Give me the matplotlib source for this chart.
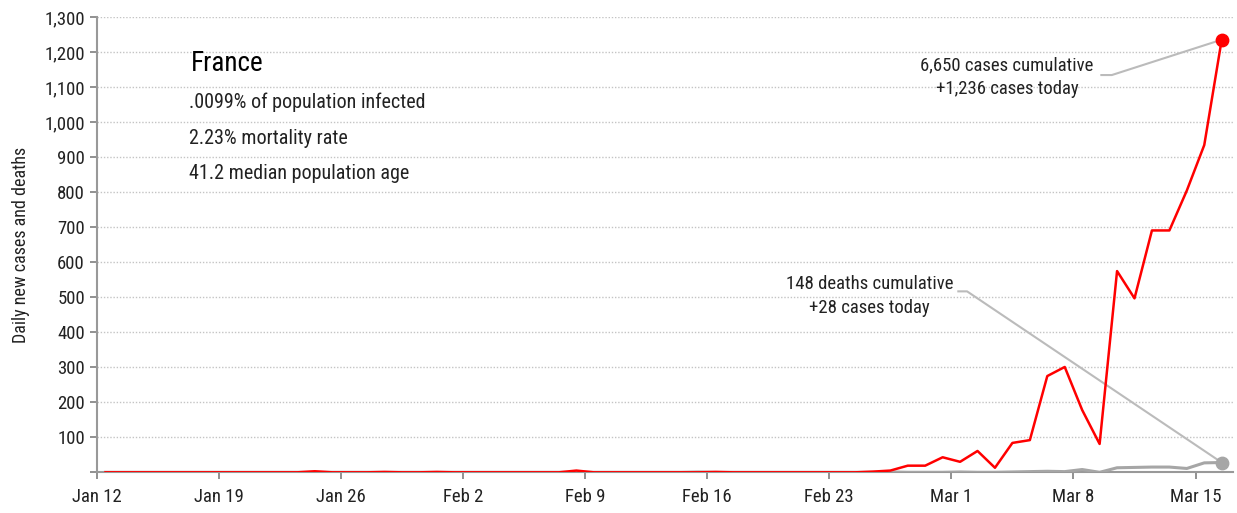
import matplotlib
matplotlib.use('Agg')
import matplotlib.pyplot as plt
from matplotlib import font_manager
import numpy as np

# pick a narrow face if one is installed
installed = {f.name for f in font_manager.fontManager.ttflist}
narrow = [n for n in ['Roboto Condensed', 'Liberation Sans Narrow', 'Open Sans Condensed',
                      'Noto Sans Condensed', 'DejaVu Sans Condensed', 'Liberation Sans']
          if n in installed]
plt.rcParams['font.family'] = narrow[:1] + ['DejaVu Sans']
plt.rcParams['font.stretch'] = 'condensed'

# daily values, Jan 12 .. Mar 16 (65 days)
cases = [0, 0, 0, 0, 0, 0, 0, 0, 0, 0, 0, 0, 3, 0, 0, 0, 1, 0, 0, 1,
         0, 0, 0, 0, 0, 0, 0, 5, 0, 0, 0, 0, 0, 0, 0, 1, 0, 0, 0, 0,
         0, 0, 0, 0, 2, 5, 19, 19, 43, 30, 61, 13, 84, 92, 275, 301, 178, 81, 575, 497,
         691, 691, 805, 935, 1236]
deaths = [0, 0, 0, 0, 0, 0, 0, 0, 0, 0, 0, 0, 0, 0, 0, 0, 0, 0, 0, 0,
          0, 0, 0, 0, 0, 0, 0, 0, 0, 0, 0, 0, 0, 0, 1, 0, 0, 0, 0, 0,
          0, 0, 0, 0, 0, 1, 0, 0, 0, 1, 0, 0, 1, 2, 3, 2, 8, 0, 13, 14,
          15, 15, 11, 27, 28]
tick_labels = ['Jan 12', 'Jan 19', 'Jan 26', 'Feb 2', 'Feb 9', 'Feb 16',
               'Feb 23', 'Mar 1', 'Mar 8', 'Mar 15']
country = 'France'
stats = ['.0099% of population infected', '2.23% mortality rate',
         '41.2 median population age']
cases_note = '6,650 cases cumulative\n+1,236 cases today'
deaths_note = '148 deaths cumulative\n+28 cases today'

x = np.arange(len(cases)) + 0.5

fig = plt.figure(figsize=(12.37, 5.13), dpi=100)
ax = fig.add_axes([0.0782, 0.0793, 0.9186, 0.887])

ax.plot(x, deaths, color='#a6a6a6', lw=2.2, zorder=3)
ax.plot(x, cases, color='#ff0000', lw=1.8, zorder=4)
ax.scatter([x[-1]], [cases[-1]], s=80, color='#ff0000', zorder=5)
ax.scatter([x[-1]], [deaths[-1]], s=80, color='#a6a6a6', zorder=5)

ax.set_xlim(0, 65.15)
ax.set_ylim(0, 1300)
ax.set_xticks(np.arange(0, 64, 7))
ax.set_xticklabels(tick_labels)
yt = np.arange(0, 1301, 100)
ax.set_yticks(yt)
ax.set_yticklabels([''] + [f'{v:,}' for v in yt[1:]])
ax.tick_params(axis='both', colors='#888888', labelcolor='#222222',
               labelsize=13.5, length=5, width=1.3, direction='out')
ax.tick_params(axis='x', pad=6)

for v in yt[1:]:
    ax.axhline(v, color='#c4c4c4', lw=1.0, ls=(0, (1, 1.3)), zorder=1)

for s in ['top', 'right']:
    ax.spines[s].set_visible(False)
for s in ['left', 'bottom']:
    ax.spines[s].set_color('#999999')
    ax.spines[s].set_linewidth(1.5)

ax.set_ylabel('Daily new cases and deaths', fontsize=13, color='#222222', labelpad=10)

# stats block
ax.text(5.4, 1169, country, fontsize=19.5, color='black', va='center')
for i, line in enumerate(stats):
    ax.text(5.3, 1057 - i * 102, line, fontsize=14.5, color='#222222', va='center')

# annotations with elbow connectors
ax.text(52.2, 1129, cases_note, fontsize=13.5, color='#222222', ha='center',
        va='center', linespacing=1.45)
ax.plot([57.6, 58.2, x[-1]], [1135, 1135, cases[-1]], color='#bbbbbb', lw=1.5, zorder=2)

ax.text(44.3, 503, deaths_note, fontsize=13.5, color='#222222', ha='center',
        va='center', linespacing=1.45)
ax.plot([49.4, 49.9, x[-1]], [517, 517, deaths[-1]], color='#bbbbbb', lw=1.5, zorder=2)

fig.savefig('out.png', dpi=100)
